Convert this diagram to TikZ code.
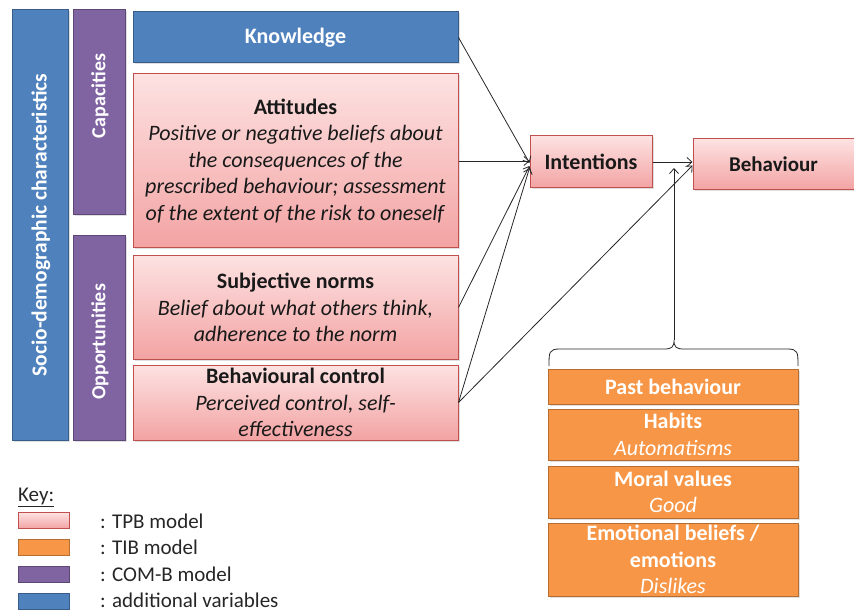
\documentclass[tikz,border=0pt]{standalone}
\usepackage{fontspec}
\setmainfont{Carlito}
\usetikzlibrary{arrows.meta,shadows}
\definecolor{bluef}{HTML}{4F81BD}
\definecolor{blued}{HTML}{385D8A}
\definecolor{purf}{HTML}{8064A2}
\definecolor{purd}{HTML}{5C4776}
\definecolor{orf}{HTML}{F79646}
\definecolor{ord}{HTML}{B66D31}
\definecolor{pinkt}{HTML}{FDE2E2}
\definecolor{pinkb}{HTML}{F3A3A3}
\definecolor{pinkd}{HTML}{C0504D}
\tikzset{
  base/.style={rectangle, line width=1pt, align=center, inner sep=2pt,
    drop shadow={shadow xshift=1.5pt, shadow yshift=-1.5pt, opacity=0.25},
    font=\fontsize{22}{26.5}\selectfont},
  bluebox/.style={base, draw=blued, fill=bluef, text=white, font=\fontsize{22}{26.5}\selectfont\bfseries},
  purbox/.style={base, draw=purd, fill=purf, text=white},
  orbox/.style={base, draw=ord, fill=orf, text=white},
  pinkbox/.style={base, draw=pinkd, top color=pinkt, bottom color=pinkb, text=black!90},
  vtext/.style={rotate=90, text=white, inner sep=0pt, font=\fontsize{20}{24}\selectfont\bfseries},
  conn/.style={line width=0.8pt, draw=black!85, -{Straight Barb[length=5pt,width=9pt]}},
  keytxt/.style={anchor=west, inner sep=0pt, font=\fontsize{21}{24}\selectfont, text=black!85},
  swatch/.style={rectangle, line width=1pt, minimum width=51pt, minimum height=16pt, inner sep=0pt}
}
\begin{document}
\begin{tikzpicture}[x=1pt,y=-1pt]
\useasboundingbox (0,0) rectangle (854,612);
% left columns
\node[bluebox, minimum width=56pt, minimum height=430pt] (socio) at (40,225) {};
\node[vtext, font=\fontsize{21.5}{24}\selectfont\bfseries] (sociot) at (41,225) {Socio-demographic characteristics};
\node[purbox, minimum width=52pt, minimum height=205pt] (cap) at (99,112.5) {};
\node[vtext] (capt) at (100,96) {Capacities};
\node[purbox, minimum width=52pt, minimum height=204pt] (opp) at (99,338) {};
\node[vtext] (oppt) at (100,342) {Opportunities};
% main boxes
\node[bluebox, minimum width=325pt, minimum height=51pt] (know) at (295.5,37.5) {Knowledge};
\node[pinkbox, minimum width=325pt, minimum height=174pt] (att) at (295.5,161) {\textbf{Attitudes}\\\textit{Positive or negative beliefs about}\\\textit{the consequences of the}\\\textit{prescribed behaviour; assessment}\\\textit{of the extent of the risk to oneself}};
\node[pinkbox, minimum width=325pt, minimum height=103pt] (subj) at (295.5,307.5) {\textbf{Subjective norms}\\\textit{Belief about what others think,}\\\textit{adherence to the norm}};
\node[pinkbox, minimum width=325pt, minimum height=75pt] (bc) at (295.5,402.5) {\textbf{Behavioural control}\\\textit{Perceived control, self-}\\\textit{effectiveness}};
\node[pinkbox, minimum width=122pt, minimum height=52pt, font=\fontsize{22}{26.5}\selectfont\bfseries] (int) at (591,162) {Intentions};
\node[pinkbox, minimum width=161pt, minimum height=51pt, font=\fontsize{21}{26.5}\selectfont\bfseries] (beh) at (773.5,164.5) {Behaviour};
% orange boxes
\node[orbox, minimum width=250pt, minimum height=35pt, font=\fontsize{22}{26.5}\selectfont\bfseries] (past) at (673,386.5) {Past behaviour};
\node[orbox, minimum width=250pt, minimum height=51pt] (hab) at (673,434.5) {\textbf{Habits}\\\textit{Automatisms}};
\node[orbox, minimum width=250pt, minimum height=52pt] (mor) at (673,492) {\textbf{Moral values}\\\textit{Good}};
\node[orbox, minimum width=250pt, minimum height=73pt] (emo) at (673,559.5) {\textbf{Emotional beliefs /}\\\textbf{emotions}\\\textit{Dislikes}};
% brace
\coordinate (btip) at (674,340);
\coordinate (bhead) at (674,168);
\draw[line width=0.8pt, black!85] (549,366) .. controls (549,352) and (549,349) .. (560,349) -- (664,349) .. controls (672,349) and (674,347) .. (btip) .. controls (674,347) and (676,349) .. (684,349) -- (787,349) .. controls (798,349) and (798,352) .. (798,366);
% connectors
\draw[conn] (know.east) -- ([yshift=-1pt]int.west);
\draw[conn] (att.east) -- ([yshift=1pt]int.west);
\draw[conn] (subj.east) -- ([yshift=-4pt]int.west);
\draw[conn] (bc.east) -- ([yshift=-6pt]int.west);
\draw[conn] (bc.east) -- ([yshift=-1pt]beh.west);
\draw[conn] (int.east) -- ([yshift=2.5pt]beh.west);
\draw[conn] (btip) -- (bhead);
% key
\node[keytxt] (keyt) at (18,497) {\underline{Key:}};
\node[swatch, draw=pinkd, top color=pinkt, bottom color=pinkb] (k1) at (43.5,520.5) {};
\node[swatch, draw=ord, fill=orf] (k2) at (43.5,547.5) {};
\node[swatch, draw=purd, fill=purf] (k3) at (43.5,574) {};
\node[swatch, draw=blued, fill=bluef] (k4) at (43.5,601.5) {};
\node[keytxt] (k1t) at (100,521) {: TPB model};
\node[keytxt] (k2t) at (100,547) {: TIB model};
\node[keytxt] (k3t) at (100,574) {: COM-B model};
\node[keytxt] (k4t) at (100,600) {: additional variables};
\end{tikzpicture}
\end{document}
